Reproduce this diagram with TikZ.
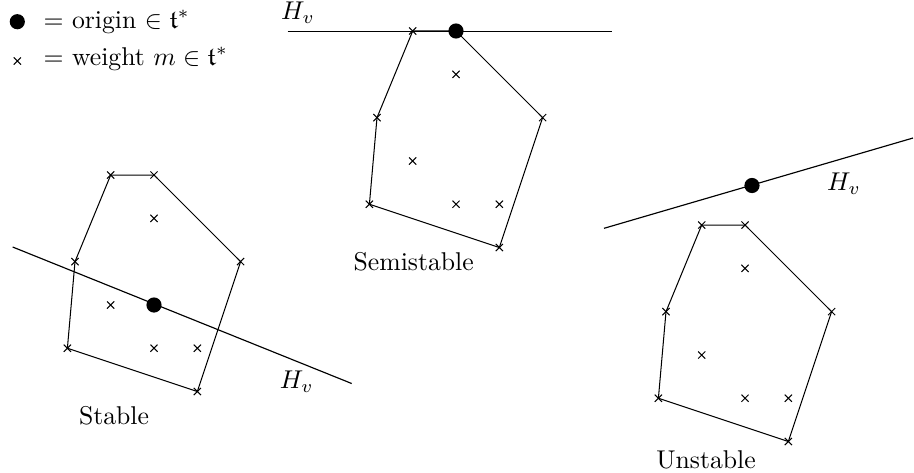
\documentclass[tikz,border=0pt]{standalone}
\usepackage{amssymb}
\usetikzlibrary{shapes.misc}
\tikzset{
  wt/.style={cross out,draw,minimum size=2.4pt,inner sep=0pt,line width=0.4pt},
  orig/.style={circle,fill,inner sep=0pt,minimum size=5.9pt},
  edge/.style={line width=0.4pt},
  hyp/.style={line width=0.45pt},
  lbl/.style={inner sep=0pt},
  poly/.pic={
    \node[wt] (-a) at (-43.3,0) {};
    \node[wt] (-b) at (0,0) {};
    \node[wt] (-c) at (0,43.3) {};
    \node[wt] (-d) at (-79,86.6) {};
    \node[wt] (-e) at (86.6,86.6) {};
    \node[wt] (-f) at (-43.3,130) {};
    \node[wt] (-g) at (-86.6,173.2) {};
    \node[wt] (-h) at (0,173.2) {};
    \node[wt] (-i) at (43.3,173.2) {};
    \node[wt] (-j) at (43.3,216.5) {};
    \draw[edge] (-a.center) -- (-b.center) -- (-e.center) -- (-j.center) -- (-g.center) -- (-d.center) -- (-a.center);
  }
}
\begin{document}
\begin{tikzpicture}[x=0.389pt,y=-0.389pt]
\useasboundingbox (0,0) rectangle (914,472);
% legend
\node[orig] (ldot) at (17.3,21.7) {};
\node[wt] (lcross) at (17.3,61) {};
\node[lbl,anchor=base west] (ltext1) at (43,28.3) {$=$ origin $\in\mathfrak{t}^*$};
\node[lbl,anchor=base west] (ltext2) at (43,65) {$=$ weight $m\in\mathfrak{t}^*$};
% stable
\pic (st) at (154,175) {poly};
\coordinate (sth1) at (12.7,247);
\coordinate (sth2) at (351.7,383.5);
\draw[hyp] (sth1) -- (sth2);
\node[orig] (stdot) at (154,305) {};
\node[lbl] (sthv) at (296.7,381.7) {$H_v$};
\node[lbl,anchor=base] (stlab) at (114,424) {Stable};
% semistable
\pic (ss) at (456,31) {poly};
\coordinate (ssh1) at (287.5,31.5);
\coordinate (ssh2) at (611.7,31.5);
\draw[hyp] (ssh1) -- (ssh2);
\node[orig] (ssdot) at (456,31) {};
\node[lbl] (sshv) at (298,13) {$H_v$};
\node[lbl,anchor=base] (sslab) at (413.7,270.7) {Semistable};
% unstable
\pic (un) at (745,225) {poly};
\coordinate (unh1) at (604,228.3);
\coordinate (unh2) at (913,138);
\draw[hyp] (unh1) -- (unh2);
\node[orig] (undot) at (752,185.5) {};
\node[lbl] (unhv) at (844,184) {$H_v$};
\node[lbl,anchor=base] (unlab) at (706,468.3) {Unstable};
\end{tikzpicture}
\end{document}
